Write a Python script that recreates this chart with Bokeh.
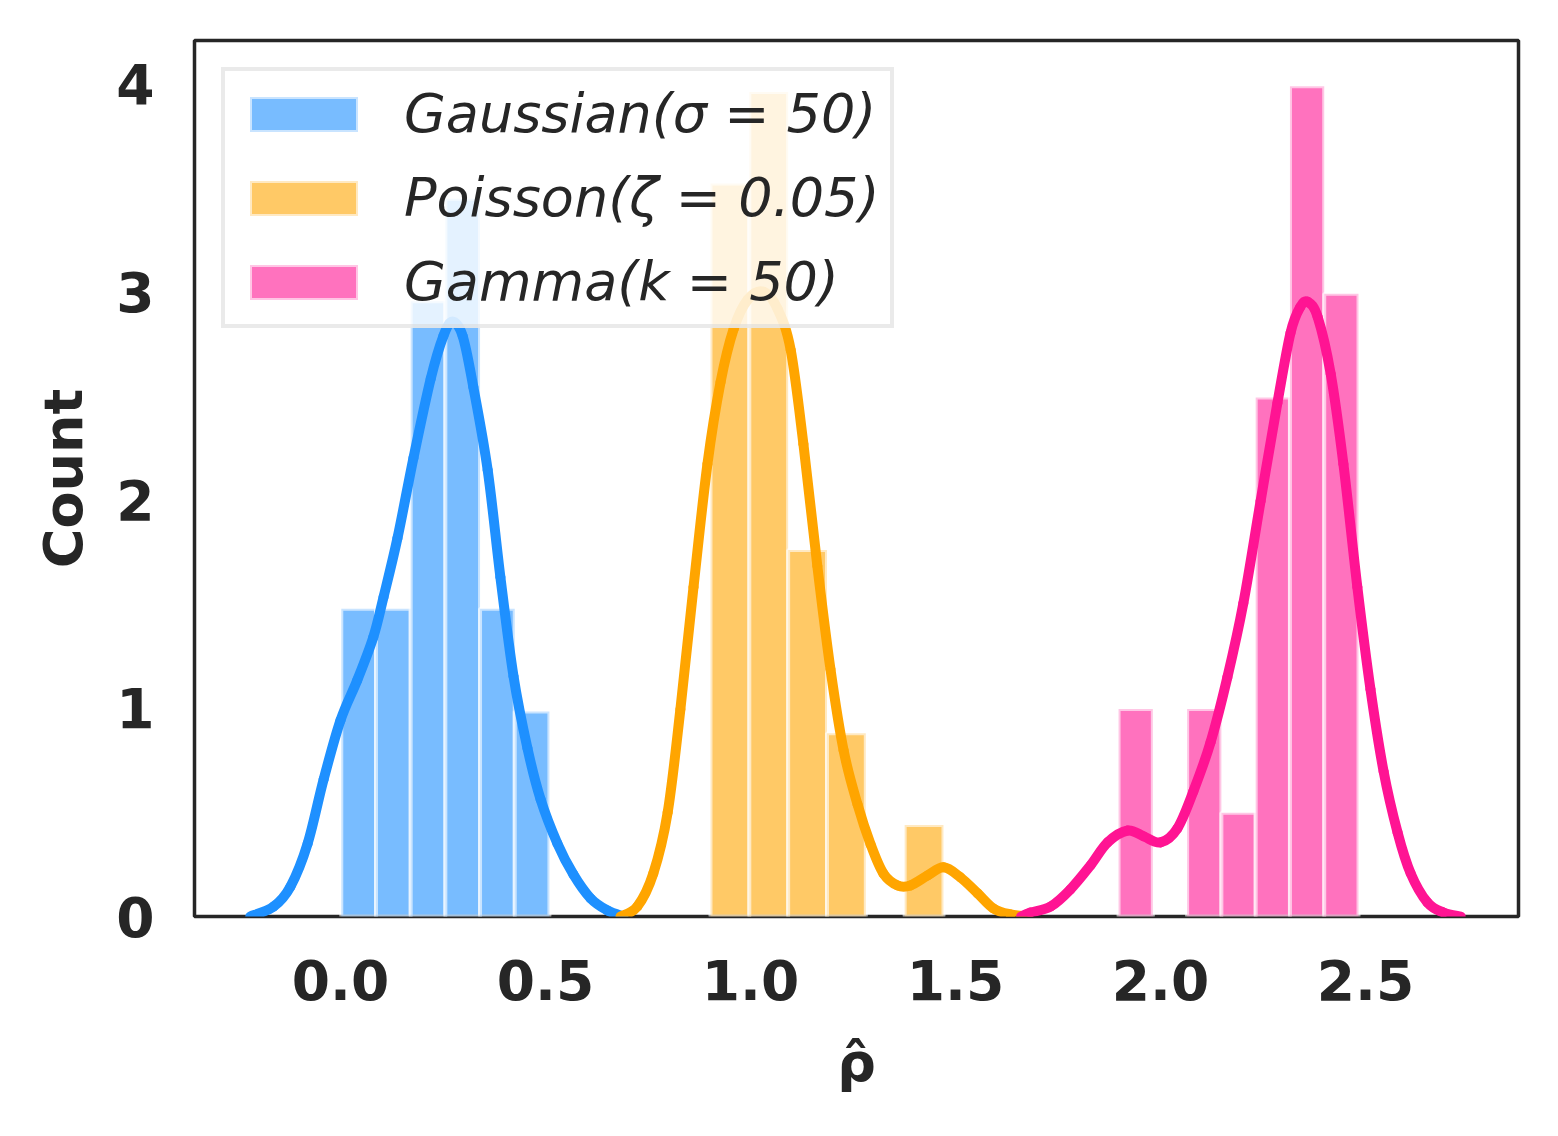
from bokeh.plotting import figure
from bokeh.models import (FixedTicker, NumeralTickFormatter, Legend, LegendItem,
                          Range1d, ColumnDataSource)
from bokeh.embed import file_html
from bokeh.resources import INLINE

# ---------------- data ----------------
n_samples = 24

gauss_bin_start = 0.002
gauss_bin_width = 0.0846
gauss_counts = [3, 3, 6, 7, 3, 2]

poisson_bin_start = 0.9024
poisson_bin_width = 0.0947
poisson_counts = [8, 9, 4, 2, 0, 1]

gamma_bin_start = 1.8976
gamma_bin_width = 0.0836
gamma_counts = [2, 0, 2, 1, 5, 8, 6]

gauss_kde_x = [-0.220, -0.163, -0.122, -0.080, -0.041, 0.000, 0.041, 0.080, 0.105,
               0.139, 0.178, 0.220, 0.251, 0.273, 0.298, 0.324, 0.359, 0.390, 0.422,
               0.456, 0.488, 0.529, 0.568, 0.610, 0.651, 0.690]
gauss_kde_y = [0.0, 0.048, 0.144, 0.351, 0.659, 0.942, 1.135, 1.341, 1.534,
               1.817, 2.202, 2.582, 2.788, 2.856, 2.788, 2.543, 2.144, 1.630, 1.154,
               0.808, 0.563, 0.351, 0.202, 0.087, 0.029, 0.0]

poisson_kde_x = [0.683, 0.724, 0.763, 0.798, 0.829, 0.861, 0.895, 0.927, 0.959, 0.993,
                 1.032, 1.066, 1.098, 1.129, 1.163, 1.195, 1.227, 1.261, 1.293, 1.324,
                 1.359, 1.390, 1.432, 1.471, 1.512, 1.554, 1.593, 1.634, 1.676]
poisson_kde_y = [0.0, 0.048, 0.207, 0.500, 0.995, 1.582, 2.173, 2.567, 2.822, 2.962,
                 3.000, 2.918, 2.721, 2.269, 1.683, 1.188, 0.798, 0.538, 0.346, 0.207,
                 0.149, 0.149, 0.197, 0.236, 0.188, 0.111, 0.038, 0.010, 0.0]

gamma_kde_x = [1.660, 1.683, 1.732, 1.780, 1.829, 1.871, 1.920, 1.959, 2.000, 2.041,
               2.080, 2.122, 2.163, 2.202, 2.244, 2.285, 2.317, 2.341, 2.359, 2.383,
               2.415, 2.446, 2.480, 2.512, 2.544, 2.578, 2.610, 2.651, 2.690, 2.732]
gamma_kde_y = [0.0, 0.019, 0.048, 0.130, 0.245, 0.356, 0.413, 0.385, 0.356, 0.423,
               0.601, 0.837, 1.149, 1.505, 1.995, 2.466, 2.803, 2.928, 2.952, 2.880,
               2.606, 2.173, 1.582, 1.091, 0.697, 0.404, 0.207, 0.067, 0.019, 0.0]

labels = ["Gaussian(σ = 50)", "Poisson(ζ = 0.05)", "Gamma(k = 50)"]
colors = ["#1E90FF", "#FFA500", "#FF1493"]

x_ticks = [0.0, 0.5, 1.0, 1.5, 2.0, 2.5]
y_ticks = [0, 1, 2, 3, 4]


def smooth_segments(xs, ys):
    """Catmull-Rom curve through the read points, as cubic Bezier segments."""
    n = len(xs)
    seg = dict(x0=[], y0=[], x1=[], y1=[], cx0=[], cy0=[], cx1=[], cy1=[])
    for i in range(n - 1):
        a = max(i - 1, 0)
        d = min(i + 2, n - 1)
        seg["x0"].append(xs[i]); seg["y0"].append(ys[i])
        seg["x1"].append(xs[i + 1]); seg["y1"].append(ys[i + 1])
        seg["cx0"].append(xs[i] + (xs[i + 1] - xs[a]) / 6.0)
        seg["cy0"].append(ys[i] + (ys[i + 1] - ys[a]) / 6.0)
        seg["cx1"].append(xs[i + 1] - (xs[d] - xs[i]) / 6.0)
        seg["cy1"].append(ys[i + 1] - (ys[d] - ys[i]) / 6.0)
    return ColumnDataSource(seg)


# ---------------- figure ----------------
p = figure(frame_width=1324, frame_height=876,
           min_border_left=194, min_border_right=22,
           min_border_top=40, min_border_bottom=204,
           x_range=Range1d(-0.356, 2.873), y_range=Range1d(0, 4.207),
           output_backend="svg", toolbar_location=None,
           background_fill_color="white", border_fill_color="white")

p.grid.visible = False
p.outline_line_color = "#262626"
p.outline_line_width = 3.5

series = [
    (gauss_bin_start, gauss_bin_width, gauss_counts, gauss_kde_x, gauss_kde_y),
    (poisson_bin_start, poisson_bin_width, poisson_counts, poisson_kde_x, poisson_kde_y),
    (gamma_bin_start, gamma_bin_width, gamma_counts, gamma_kde_x, gamma_kde_y),
]

items = []
for (start, width, counts, kx, ky), lab, col in zip(series, labels, colors):
    lefts, rights, dens = [], [], []
    for i, c in enumerate(counts):
        if c == 0:
            continue
        lefts.append(start + i * width)
        rights.append(start + (i + 1) * width)
        dens.append(c / (n_samples * width))
    src = ColumnDataSource(dict(left=lefts, right=rights, top=dens))
    r = p.quad(left="left", right="right", top="top", bottom=0, source=src,
               fill_color=col, fill_alpha=0.6,
               line_color="white", line_alpha=0.6, line_width=4)
    p.bezier(x0="x0", y0="y0", x1="x1", y1="y1", cx0="cx0", cy0="cy0",
             cx1="cx1", cy1="cy1", source=smooth_segments(kx, ky),
             line_color=col, line_width=10, line_cap="round")
    items.append(LegendItem(label=lab, renderers=[r]))

legend = Legend(items=items, location="top_left", margin=27,
                label_text_font="DejaVu Sans", label_text_font_style="italic",
                label_text_font_size="54px", label_text_color="#262626",
                glyph_width=135, glyph_height=44, label_standoff=33,
                label_height=60, spacing=21, padding=11,
                border_line_color="#d6d6d6", border_line_width=4,
                background_fill_color="white", background_fill_alpha=0.8)
p.add_layout(legend)

for ax in (p.xaxis[0], p.yaxis[0]):
    ax.axis_line_color = None
    ax.major_tick_line_color = None
    ax.minor_tick_line_color = None
    ax.major_tick_out = 0
    ax.major_tick_in = 0
    ax.major_label_text_font = "DejaVu Sans"
    ax.major_label_text_font_style = "bold"
    ax.major_label_text_font_size = "55px"
    ax.major_label_text_color = "#262626"
    ax.axis_label_text_font = "DejaVu Sans"
    ax.axis_label_text_font_style = "bold"
    ax.axis_label_text_font_size = "54px"
    ax.axis_label_text_color = "#262626"

p.xaxis[0].ticker = FixedTicker(ticks=x_ticks)
p.xaxis[0].formatter = NumeralTickFormatter(format="0.0")
p.xaxis[0].major_label_standoff = 43
p.xaxis[0].axis_label = "ρ̂"
p.xaxis[0].axis_label_standoff = 28

p.yaxis[0].ticker = FixedTicker(ticks=y_ticks)
p.yaxis[0].major_label_standoff = 40
p.yaxis[0].axis_label = "Count"
p.yaxis[0].axis_label_standoff = 18

open("out.html", "w").write(file_html(p, INLINE))
